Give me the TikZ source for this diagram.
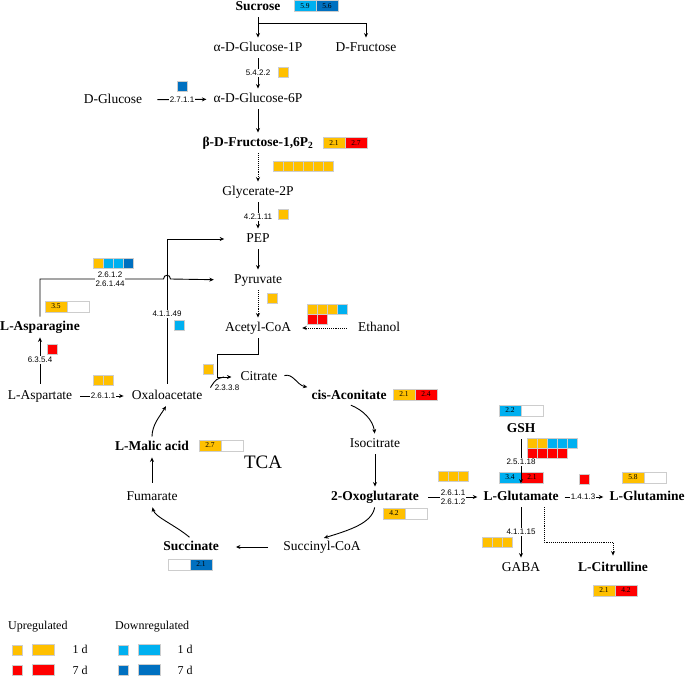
\documentclass[tikz,border=0pt]{standalone}
\usepackage{fontspec}
\setmainfont{Liberation Serif}
\newfontfamily\ecfont{Liberation Sans}
\usetikzlibrary{arrows.meta}
\definecolor{upA}{RGB}{255,192,0}
\definecolor{upB}{RGB}{255,0,0}
\definecolor{dnA}{RGB}{0,176,240}
\definecolor{dnB}{RGB}{0,112,192}
\definecolor{rim}{RGB}{205,205,205}
\tikzset{
  met/.style={font=\fontsize{13.5}{16}\selectfont, inner sep=2pt, text height=9.5pt, text depth=3pt},
  metb/.style={met, font=\fontsize{13.5}{16}\selectfont\bfseries},
  ec/.style={font=\ecfont\fontsize{8}{9.5}\selectfont, fill=white, inner sep=1pt, align=center},
  num/.style={font=\fontsize{7.5}{8}\selectfont, inner sep=0pt},
  legtext/.style={font=\fontsize{12}{14}\selectfont, inner sep=0pt},
  cell/.style={draw=rim, line width=1pt},
  link/.style={draw, line width=0.9pt},
  rxn/.style={link, -{Stealth[length=4.5pt,width=4pt]}, shorten <=2pt, shorten >=2pt}
}
\newcommand{\sqrow}[3]{
  \foreach \col [count=\i from 0] in {#3}{
    \draw[cell, fill=\col] ({#1+\i*10},#2) rectangle ++(10,10);
  }
}
\newcommand{\foldbox}[6]{
  \draw[cell, fill=#3] (#1,#2) rectangle ++(22,11);
  \draw[cell, fill=#5] ({#1+22},#2) rectangle ++(22,11);
  \node[num] at ({#1+11},{#2+5.5}) {#4};
  \node[num] at ({#1+33},{#2+5.5}) {#6};
}

\begin{document}
\begin{tikzpicture}[x=1pt,y=-1pt]
\useasboundingbox (0,0) rectangle (685,676);
% metabolites
\node[metb] (sucrose) at (258,7) {Sucrose};
\node[met] (glc1p) at (258,48) {α-D-Glucose-1P};
\node[met] (fru) at (366,48) {D-Fructose};
\node[met] (glc6p) at (258,99) {α-D-Glucose-6P};
\node[met] (glc) at (113,100) {D-Glucose};
\node[metb] (f16p) at (258,143) {β-D-Fructose-1,6P\textsubscript{2}};
\node[met] (g2p) at (258,192) {Glycerate-2P};
\node[met] (pep) at (258,239) {PEP};
\node[met] (pyr) at (258,280) {Pyruvate};
\node[met] (acoa) at (258,328) {Acetyl-CoA};
\node[met] (etoh) at (379,328) {Ethanol};
\node[metb] (asn) at (40,327) {L-Asparagine};
\node[met] (asp) at (40,396) {L-Aspartate};
\node[met] (oaa) at (167,396) {Oxaloacetate};
\node[met] (cit) at (259,377) {Citrate};
\node[metb] (cisac) at (349,396) {cis-Aconitate};
\node[met] (icit) at (375,444) {Isocitrate};
\node[metb] (oxog) at (375,497) {2-Oxoglutarate};
\node[metb] (mal) at (152,447) {L-Malic acid};
\node[font=\fontsize{19}{22}\selectfont] (tca) at (263,462) {TCA};
\node[met] (fum) at (152,497) {Fumarate};
\node[metb] (suc) at (191,547) {Succinate};
\node[met] (sucoa) at (322,547) {Succinyl-CoA};
\node[metb] (gsh) at (521,429) {GSH};
\node[metb] (glu) at (521,497) {L-Glutamate};
\node[metb] (gln) at (647,497) {L-Glutamine};
\node[met] (gaba) at (521,568) {GABA};
\node[metb] (citr) at (613,568) {L-Citrulline};
% fold changes
\foldbox{294}{1}{dnA}{5.9}{dnB}{5.6}
\sqrow{278}{68}{upA}
\sqrow{177}{82}{dnB}
\foldbox{323}{138}{upA}{2.1}{upB}{2.7}
\sqrow{273}{162}{upA,upA,upA,upA,upA,upA}
\sqrow{278}{210}{upA}
\sqrow{267}{293}{upA}
\sqrow{307}{304}{upA,upA,upA,dnA}
\sqrow{307}{314}{upB,upB}
\sqrow{93}{259}{upA,dnA,dnA,dnB}
\sqrow{174}{320}{dnA}
\foldbox{45}{301}{upA}{3.5}{white}{}
\sqrow{47}{344}{upB}
\sqrow{93}{375}{upA,upA}
\sqrow{203}{364}{upA}
\foldbox{393}{389}{upA}{2.1}{upB}{2.4}
\foldbox{199}{440}{upA}{2.7}{white}{}
\foldbox{383}{508}{upA}{4.2}{white}{}
\sqrow{438}{471}{upA,upA,upA}
\foldbox{499}{405}{dnA}{2.2}{white}{}
\sqrow{527}{438}{upA,upA,dnA,dnA,dnA}
\sqrow{527}{448}{upB,upB,upB,upB}
\foldbox{499}{472}{dnA}{3.4}{upB}{2.1}
\sqrow{579}{474}{upB}
\foldbox{622}{472}{upA}{5.8}{white}{}
\sqrow{482}{537}{upA,upA,upA}
\foldbox{593}{585}{upA}{2.1}{upB}{4.2}
\foldbox{168}{559}{white}{}{dnB}{2.1}
% reactions
\coordinate (sbend) at (258,23);
\draw[rxn] (sucrose) -- (glc1p);
\draw[rxn, shorten <=0pt] (sbend) -| (fru.north);
\draw[rxn] (glc1p) -- (glc6p);
\draw[rxn, shorten <=13pt, shorten >=5pt] (glc) -- (glc6p);
\draw[rxn] (glc6p) -- (f16p);
\draw[rxn, densely dotted] (f16p) -- (g2p);
\draw[rxn] (g2p) -- (pep);
\draw[rxn] (pep) -- (pyr);
\draw[rxn, densely dotted] (pyr) -- (acoa);
\draw[rxn, densely dotted, shorten <=9pt, shorten >=9pt] (etoh) -- (acoa);
\draw[rxn, shorten <=4pt] (asp) -- (asn);
\coordinate (brL) at (163.5,279);
\coordinate (brR) at (170.5,279);
\draw[rxn, shorten >=18pt] (asn.north) |- (brL) .. controls (163.5,274) and (170.5,274) .. (brR) -- (pyr.west);
\draw[rxn, shorten <=4pt, shorten >=20pt] (oaa.north) |- (pep.west);
\draw[rxn, shorten <=6pt, shorten >=6pt] (asp) -- (oaa);
\coordinate (acbend) at (217,354);
\draw[rxn, shorten >=7pt] (acoa.south) |- (acbend) |- (cit.west);
\coordinate (citjoin) at (224,377);
\draw[link] ([xshift=6pt]oaa.north east) .. controls (216,379) .. (citjoin);
\draw[rxn, shorten <=5pt] (cit.east) .. controls (293,373) and (297,385) .. (cisac.north west);
\draw[rxn] (cisac.south) .. controls (363,410) and (373,420) .. (icit.north);
\draw[rxn] (icit) -- (oxog);
\draw[rxn] (oxog.south) .. controls (372,523) and (350,530) .. (sucoa.north);
\draw[rxn, shorten <=13pt, shorten >=15pt] (sucoa) -- (suc);
\draw[rxn] (suc.north) .. controls (175,525) and (155,517) .. (fum.south);
\draw[rxn, shorten <=6pt] (fum) -- (mal);
\draw[rxn] (mal.north) .. controls (152,425) and (160,416) .. (oaa.south);
\draw[rxn, shorten <=7pt, shorten >=4pt] (oxog) -- (glu);
\draw[rxn, shorten >=5pt] (gsh) -- (glu);
\draw[rxn, shorten <=4pt, shorten >=4pt] (glu) -- (gln);
\draw[rxn] (glu) -- (gaba);
\coordinate (ctbend) at (613,542);
\draw[rxn, densely dotted, shorten >=4pt] ([xshift=23pt]glu.south) |- (ctbend) -- (citr.north);
% enzymes
\node[ec] (e5422) at (258,73) {5.4.2.2};
\node[ec] (e2711) at (182,100) {2.7.1.1};
\node[ec] (e42111) at (258,217) {4.2.1.11};
\node[ec] (e2612a) at (110,279) {2.6.1.2\\2.6.1.44};
\node[ec] (e41149) at (167,314) {4.1.1.49};
\node[ec] (e6354) at (40,360) {6.3.5.4};
\node[ec] (e2611a) at (103,396) {2.6.1.1};
\node[ec, fill=none] (e2338) at (227,388) {2.3.3.8};
\node[ec] (e2611b) at (453,497) {2.6.1.1\\2.6.1.2};
\node[ec] (e25118) at (521,462) {2.5.1.18};
\node[ec] (e1413) at (583,497) {1.4.1.3};
\node[ec] (e41115) at (521,532) {4.1.1.15};
% legend
\node[legtext, anchor=west] (upleg) at (8,627) {Upregulated};
\node[legtext, anchor=west] (dnleg) at (115,627) {Downregulated};
\sqrow{12}{645}{upA}
\sqrow{12}{665}{upB}
\sqrow{118}{645}{dnA}
\sqrow{118}{665}{dnB}
\draw[cell, fill=upA] (32,644) rectangle ++(22,11);
\draw[cell, fill=upB] (32,664) rectangle ++(22,11);
\draw[cell, fill=dnA] (138,644) rectangle ++(22,11);
\draw[cell, fill=dnB] (138,664) rectangle ++(22,11);
\node[legtext] (upday1) at (80,649) {1 d};
\node[legtext] (upday7) at (80,670) {7 d};
\node[legtext] (dnday1) at (185,649) {1 d};
\node[legtext] (dnday7) at (185,670) {7 d};
\end{tikzpicture}
\end{document}
